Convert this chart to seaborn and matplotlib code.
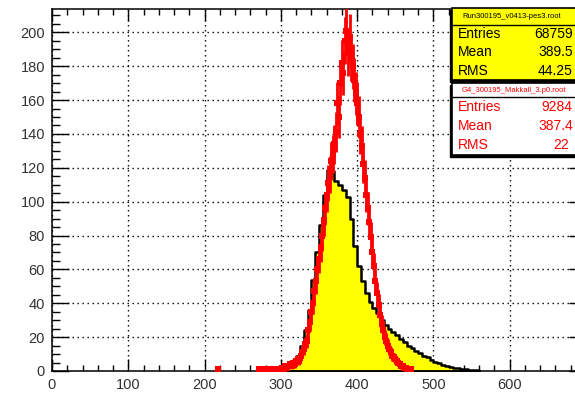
import numpy as np
import pandas as pd
import matplotlib
matplotlib.use("Agg")
import matplotlib.pyplot as plt
import seaborn as sns
from matplotlib.patches import Rectangle
from matplotlib.ticker import MultipleLocator, FixedLocator

# data histogram (Run300195), 5-unit bins, left edges
data_edges_lo = [295, 300, 305, 310, 315, 320, 325, 330, 335, 340, 345, 350, 355, 360,
                 365, 370, 375, 380, 385, 390, 395, 400, 405, 410, 415, 420, 425, 430,
                 435, 440, 445, 450, 455, 460, 465, 470, 475, 480, 485, 490, 495, 500,
                 505, 510, 515, 520, 525, 530, 535, 540, 545, 550, 555]
data_counts = [0.5, 1.5, 3, 4, 6, 9, 15, 24, 36, 54, 70, 86, 104, 119,
               118, 112, 110, 107, 103, 90, 74, 62, 53, 46, 41, 37, 34, 30,
               27, 25, 23, 21, 19, 17, 15, 13.5, 12, 10.5, 9, 8, 6.5, 5.5,
               4.5, 3.5, 3, 2.5, 2, 1.5, 1.2, 1, 0.7, 0.5, 0.3]

# simulation histogram (G4), drawn as points with errors
sim_x = [218, 272, 276, 280, 284, 288, 292, 296,
         300, 302, 304, 306, 308, 310, 312, 314, 316, 318, 320, 322, 324, 326, 328,
         330, 332, 334, 336, 338, 340, 342, 344, 346, 348, 350, 352, 354, 356, 358,
         360, 362, 364, 366, 368, 370, 372, 374, 376, 378, 380, 382, 384, 386, 388,
         390, 392, 394, 396, 398, 400, 402, 404, 406, 408, 410, 412, 414, 416, 418,
         420, 422, 424, 426, 428, 430, 432, 434, 436, 438, 440, 442, 444, 446, 448,
         450, 452, 454, 456, 458, 460, 462, 464, 466, 468, 470]
sim_y = [1, 1, 1, 1, 1, 1, 1, 1,
         1, 2, 1, 3, 2, 3, 4, 3, 5, 4, 6, 7, 6, 9, 11,
         13, 16, 18, 24, 29, 35, 40, 47, 53, 60, 66, 73, 80, 89, 96,
         104, 111, 116, 124, 128, 134, 141, 158, 150, 170, 182, 176, 195, 201, 188,
         197, 185, 180, 172, 164, 158, 150, 140, 133, 122, 114, 104, 96, 88, 79,
         70, 62, 53, 46, 39, 33, 28, 24, 20, 18, 15, 13, 11, 9, 8,
         7, 6, 5, 4, 3, 3, 2, 2, 1, 1, 1]

stats_data = ["Run300195_v0413-pes3.root", "68759", "389.5", "44.25"]
stats_sim = ["G4_300195_Makkall_3.p0.root", "9284", "387.4", "22"]

W, H = 575, 395
fig = plt.figure(figsize=(W / 100, H / 100), dpi=100)
ax = fig.add_axes([52 / W, (H - 371) / H, 534 / W, 362 / H])

font = "Liberation Sans"

edges = list(data_edges_lo) + [data_edges_lo[-1] + 5]
centers = [e + 2.5 for e in data_edges_lo]
df = pd.DataFrame({"x": centers, "w": data_counts})
sns.histplot(data=df, x="x", weights="w", bins=edges, element="step", fill=True,
             facecolor="#ffff00", edgecolor="black", linewidth=1.8, alpha=1, ax=ax,
             zorder=2)

sim_err = np.sqrt(sim_y)
ax.errorbar(sim_x, sim_y, yerr=sim_err, xerr=1.0, fmt="none", ecolor="red",
            elinewidth=2.0, zorder=3)
sns.scatterplot(x=sim_x, y=sim_y, marker="s", color="red", s=18, linewidth=0,
                ax=ax, zorder=4)

ax.set_xlim(0, 700)
ax.set_ylim(0, 213.8)
ax.set_xlabel("")
ax.set_ylabel("")
ax.xaxis.set_major_locator(FixedLocator([0, 100, 200, 300, 400, 500, 600, 700]))
ax.set_xticklabels(["0", "100", "200", "300", "400", "500", "600", ""])
ax.xaxis.set_minor_locator(MultipleLocator(20))
ax.yaxis.set_major_locator(MultipleLocator(20))
ax.yaxis.set_minor_locator(MultipleLocator(5))
ax.tick_params(axis="both", which="both", direction="in", top=True, right=True,
               width=1.0, color="black")
ax.tick_params(axis="x", which="major", length=8.5, pad=5)
ax.tick_params(axis="x", which="minor", length=4.3)
ax.tick_params(axis="y", which="major", length=12, pad=5)
ax.tick_params(axis="y", which="minor", length=6)
for lab in ax.get_xticklabels() + ax.get_yticklabels():
    lab.set_fontfamily(font)
    lab.set_fontsize(10.5)
    lab.set_color("#333333")
for s in ax.spines.values():
    s.set_linewidth(1.1)
    s.set_color("black")
ax.set_axisbelow(True)
ax.grid(True, which="major", color="black", linestyle=(0, (1, 2.6)), linewidth=1.0)
ax.set_facecolor("white")


def stats_box(y_top, y_bot, y_line, fill, color, title, values, rights):
    x0 = 452
    x1 = 600
    # shadow
    fig.patches.append(Rectangle((x0 - 2, H - y_bot - 2), x1 - x0, y_bot - y_top,
                                 transform=None, facecolor="black", edgecolor="black",
                                 zorder=5))
    fig.patches.append(Rectangle((x0, H - y_bot), x1 - x0, y_bot - y_top,
                                 transform=None, facecolor=fill, edgecolor="black",
                                 linewidth=1.2, zorder=6))
    fig.add_artist(plt.Line2D([x0 / W, x1 / W], [(H - y_line) / H, (H - y_line) / H],
                              color="black", linewidth=1.0, zorder=7))
    fig.text(462 / W, (H - (y_top + y_line) / 2) / H, title, fontsize=5.5,
             family=font, color=color, va="center", ha="left", zorder=8)
    rows = ["Entries", "Mean", "RMS"]
    step = (y_bot - y_line) / len(rows)
    for i, (r, v, xr) in enumerate(zip(rows, values, rights)):
        yc = y_line + step * (i + 0.5)
        fig.text(458 / W, (H - yc) / H, r, fontsize=10, family=font, color=color,
                 va="center", ha="left", zorder=8)
        fig.text(xr / W, (H - yc) / H, v, fontsize=10, family=font, color=color,
                 va="center", ha="right", zorder=8)


stats_box(8, 80, 25, "#ffff00", "black", stats_data[0], stats_data[1:], [573, 573, 573])
stats_box(83, 155, 97, "white", "red", stats_sim[0], stats_sim[1:], [572, 573, 569])

fig.savefig("out.png", dpi=100, facecolor="white")
